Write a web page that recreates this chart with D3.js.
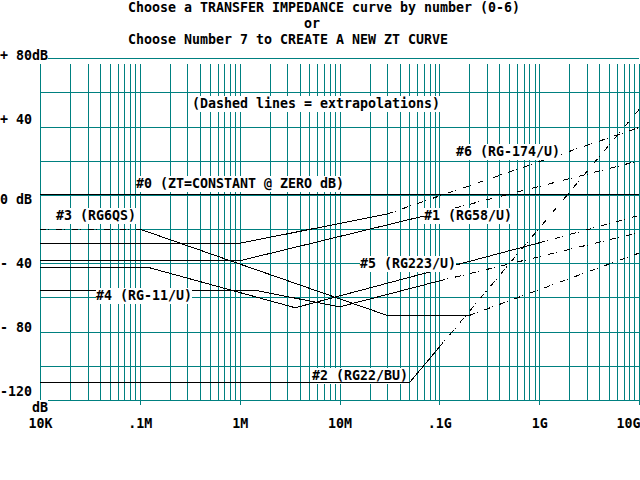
<!DOCTYPE html>
<html>
<head>
<meta charset="utf-8">
<script src="https://cdn.jsdelivr.net/npm/d3@7"></script>
<style>
  body { margin: 0; background: #fff; }
  svg text {
    font-family: "DejaVu Sans Mono", monospace;
    font-weight: bold;
    font-size: 13.3px;
    fill: #000;
  }
  .grid line { stroke: #008080; shape-rendering: crispEdges; }
  .grid path { display: none; }
  .ticks line { stroke: #008080; shape-rendering: crispEdges; }
  .ticks path { display: none; }
  .curve { fill: none; stroke: #000; stroke-width: 1; shape-rendering: crispEdges; }
  .dashed { stroke-dasharray: 6,2,1,7; }
</style>
</head>
<body>
<svg id="chart" width="640" height="480"></svg>
<script>
// axis ticks
var freqTicks = [1e4, 1e5, 1e6, 1e7, 1e8, 1e9, 1e10];
var freqLabels = ["10K", ".1M", "1M", "10M", ".1G", "1G", "10G"];
var dbTicks = [80, 40, 0, -40, -80, -120];
var dbLabels = ["+ 80dB", "+ 40", "0 dB", "- 40", "- 80", "-120"];

var titleLines = [
  "Choose a TRANSFER IMPEDANCE curve by number (0-6)",
  "or",
  "Choose Number 7 to CREATE A NEW ZT CURVE"
];
var noteText = "(Dashed lines = extrapolations)";
var curveNames = [
  "#0 (ZT=CONSTANT @ ZERO dB)",
  "#1 (RG58/U)",
  "#2 (RG22/BU)",
  "#3 (RG6QS)",
  "#4 (RG-11/U)",
  "#5 (RG223/U)",
  "#6 (RG-174/U)"
];

// curves: [frequency Hz, dB], solid = measured, dashed = extrapolated
var zt0Solid = [[1e4, 0], [1e10, 0]];
var rg58Solid = [[1e4, -38.5], [1e6, -38.5], [7e7, -12.3]];
var rg58Dashed = [[7e7, -12.3], [1e10, 20]];
var rg22Solid = [[1e4, -110], [5e7, -110], [1e8, -89]];
var rg22Dashed = [[1e8, -89], [1e10, 50]];
var rg6qsDashedLow = [[1e4, -20], [1e5, -20]];
var rg6qsSolid = [[1e5, -20], [3e7, -70.5], [2e8, -70.5]];
var rg6qsDashed = [[2e8, -70.5], [1e10, -34]];
var rg11Solid = [[1e4, -56], [1.5e6, -56], [1e7, -65.5], [1e8, -50.3]];
var rg11Dashed = [[1e8, -50.3], [1e10, -22]];
var rg223Solid = [[1e4, -42.3], [1.2e5, -42.3], [3.6e6, -66], [1e9, -28]];
var rg223Dashed = [[1e9, -28], [1e10, -12]];
var rg174Solid = [[1e4, -28.3], [1e6, -28.3], [3e7, -11.1]];
var rg174Dashed = [[3e7, -11.1], [1e10, 39.5]];

var svg = d3.select("#chart");
svg.append("rect").attr("width", 640).attr("height", 480).attr("fill", "#fff");

var x = d3.scaleLog().domain([1e4, 1e10]).range([40, 639]);
var y = d3.scaleLinear().domain([-120, 80]).range([400, 58.3]);
var plotTop = 64;

// log grid lines 1..9 per decade
var gridFreqs = [];
d3.range(4, 10).forEach(function (e) {
  d3.range(1, 10).forEach(function (m) { gridFreqs.push(m * Math.pow(10, e)); });
});
gridFreqs.push(1e10);

svg.append("g")
  .attr("class", "grid")
  .attr("transform", "translate(40,0)")
  .call(d3.axisLeft(y).tickValues(d3.range(-120, 81, 20)).tickSize(-599).tickFormat(""))
  .selectAll("text").remove();

svg.append("g")
  .attr("class", "grid")
  .attr("transform", "translate(0,400)")
  .call(d3.axisBottom(x).tickValues(gridFreqs).tickSize(-(400 - plotTop)).tickFormat(""))
  .selectAll("text").remove();

// decade ticks + labels
var xAxis = svg.append("g")
  .attr("class", "ticks")
  .attr("transform", "translate(0,400)")
  .call(d3.axisBottom(x).tickValues(freqTicks).tickSize(5)
    .tickFormat(function (d, i) { return freqLabels[i]; }));
xAxis.selectAll("text")
  .attr("y", 28).attr("dy", null)
  .attr("text-anchor", "middle")
  .attr("fill", "#000")
  .attr("transform", function (d, i) {
    var w = freqLabels[i].length * 8;
    var cx = x(d);
    var shift = Math.min(0, 640 - (cx + w / 2));
    return shift ? "translate(" + shift + ",0)" : null;
  });

var line = d3.line()
  .x(function (d) { return x(d[0]); })
  .y(function (d) { return y(d[1]); });

function curve(pts, dashed) {
  svg.append("path")
    .datum(pts)
    .attr("class", dashed ? "curve dashed" : "curve")
    .attr("d", line);
}

curve(zt0Solid);
curve(rg58Solid); curve(rg58Dashed, true);
curve(rg22Dashed, true);
curve(rg6qsDashedLow, true); curve(rg6qsSolid); curve(rg6qsDashed, true);
curve(rg11Solid); curve(rg11Dashed, true);
curve(rg223Solid); curve(rg223Dashed, true);
curve(rg174Solid); curve(rg174Dashed, true);

// text on the 8x16 character grid, with cell background
function putText(str, col, row) {
  var g = svg.append("g");
  g.append("rect")
    .attr("x", col * 8).attr("y", row * 16)
    .attr("width", str.length * 8).attr("height", 16)
    .attr("fill", "#fff");
  g.append("text")
    .attr("x", col * 8).attr("y", row * 16 + 12)
    .attr("textLength", str.length * 8)
    .attr("lengthAdjust", "spacingAndGlyphs")
    .style("white-space", "pre")
    .text(str);
}

putText(titleLines[0], 16, 0);
putText(titleLines[1], 38, 1);
putText(titleLines[2], 16, 2);
putText(noteText, 24, 6);

dbTicks.forEach(function (d, i) {
  putText(dbLabels[i], 0, Math.floor((y(d) - 1) / 16));
});
putText("dB", 4, 25);

var labelCells = [[17, 11], [53, 13], [39, 23], [7, 13], [12, 18], [45, 16], [57, 9]];
curveNames.forEach(function (name, i) {
  putText(name, labelCells[i][0], labelCells[i][1]);
});

curve(rg22Solid);
</script>
</body>
</html>
